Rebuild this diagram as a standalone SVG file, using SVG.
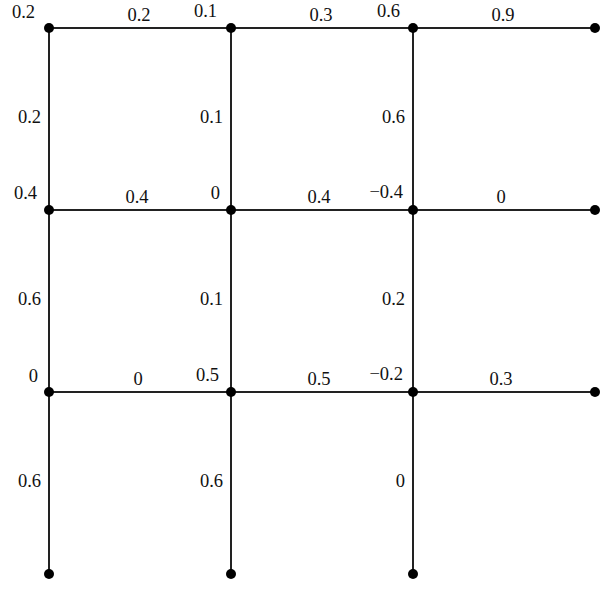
<svg xmlns="http://www.w3.org/2000/svg" width="610" height="589" viewBox="0 0 610 589">
<style>
.e{stroke:#222;stroke-width:2;fill:none}
.n{fill:#000}
.nl{text-anchor:end}
.hl{text-anchor:middle}
.vl{text-anchor:end}
</style>
<rect width="610" height="589" fill="#fff"/>
<g id="connectors">
<line class="e" x1="49" y1="28" x2="595" y2="28"/>
<line class="e" x1="49" y1="210" x2="595" y2="210"/>
<line class="e" x1="49" y1="392" x2="595" y2="392"/>
<line class="e" x1="49" y1="28" x2="49" y2="574"/>
<line class="e" x1="231" y1="28" x2="231" y2="574"/>
<line class="e" x1="413" y1="28" x2="413" y2="574"/>
</g>
<g font-family="'Liberation Serif', 'DejaVu Serif', serif" font-size="18.5" fill="#111">
<g id="edge-labels">
<text class="hl" x="139" y="21">0.2</text>
<text class="hl" x="321" y="21">0.3</text>
<text class="hl" x="503" y="21">0.9</text>
<text class="hl" x="137" y="203">0.4</text>
<text class="hl" x="319" y="203">0.4</text>
<text class="hl" x="501" y="203">0</text>
<text class="hl" x="138" y="385">0</text>
<text class="hl" x="319" y="385">0.5</text>
<text class="hl" x="501" y="385">0.3</text>
<text class="vl" x="41" y="123">0.2</text>
<text class="vl" x="223" y="123">0.1</text>
<text class="vl" x="405" y="123">0.6</text>
<text class="vl" x="41" y="305">0.6</text>
<text class="vl" x="223" y="305">0.1</text>
<text class="vl" x="405" y="305">0.2</text>
<text class="vl" x="41" y="487">0.6</text>
<text class="vl" x="223" y="487">0.6</text>
<text class="vl" x="405" y="487">0</text>
</g>
<g id="n00"><circle class="n" cx="49" cy="28" r="5"/><text class="nl" x="35" y="18">0.2</text></g>
<g id="n10"><circle class="n" cx="231" cy="28" r="5"/><text class="nl" x="217" y="17">0.1</text></g>
<g id="n20"><circle class="n" cx="413" cy="28" r="5"/><text class="nl" x="400" y="17">0.6</text></g>
<g id="n30"><circle class="n" cx="595" cy="28" r="5"/></g>
<g id="n01"><circle class="n" cx="49" cy="210" r="5"/><text class="nl" x="37" y="199">0.4</text></g>
<g id="n11"><circle class="n" cx="231" cy="210" r="5"/><text class="nl" x="220" y="199">0</text></g>
<g id="n21"><circle class="n" cx="413" cy="210" r="5"/><text class="nl" x="403" y="198">−0.4</text></g>
<g id="n31"><circle class="n" cx="595" cy="210" r="5"/></g>
<g id="n02"><circle class="n" cx="49" cy="392" r="5"/><text class="nl" x="38" y="382">0</text></g>
<g id="n12"><circle class="n" cx="231" cy="392" r="5"/><text class="nl" x="219" y="381">0.5</text></g>
<g id="n22"><circle class="n" cx="413" cy="392" r="5"/><text class="nl" x="403" y="380">−0.2</text></g>
<g id="n32"><circle class="n" cx="595" cy="392" r="5"/></g>
<g id="n03"><circle class="n" cx="49" cy="574" r="5"/></g>
<g id="n13"><circle class="n" cx="231" cy="574" r="5"/></g>
<g id="n23"><circle class="n" cx="413" cy="574" r="5"/></g>
</g>
</svg>
